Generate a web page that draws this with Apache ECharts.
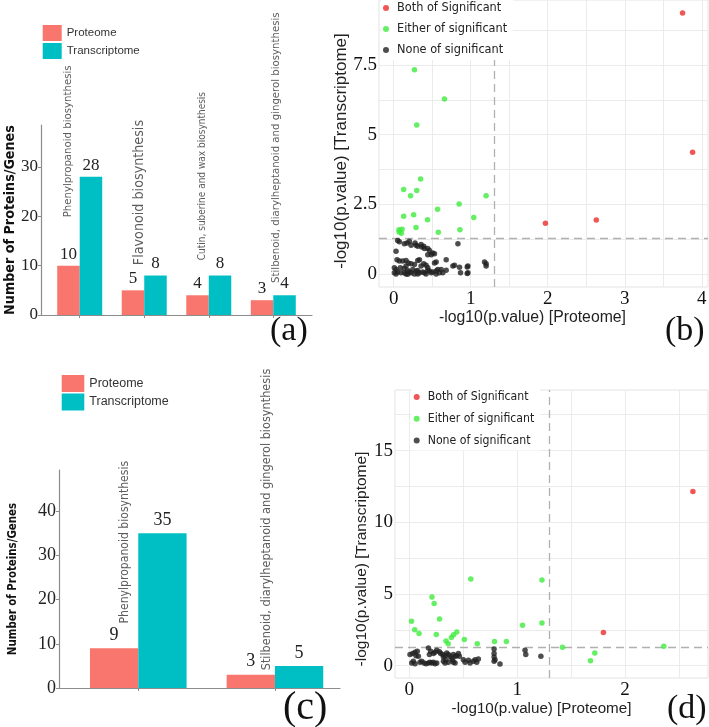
<!DOCTYPE html>
<html><head><meta charset="utf-8">
<script src="https://cdn.jsdelivr.net/npm/echarts@6/dist/echarts.min.js"></script>
<style>html,body{margin:0;padding:0;background:#fff}#c{width:709px;height:727px}</style>
</head><body><div id="c"></div>
<script>
// ---------------- data ----------------
const categoriesA = ['Phenylpropanoid biosynthesis','Flavonoid biosynthesis','Cutin, suberine and wax biosynthesis','Stilbenoid, diarylheptanoid and gingerol biosynthesis'];
const proteomeA = [10, 5, 4, 3];
const transcriptomeA = [28, 8, 8, 4];
const yTicksA = [0, 10, 20, 30];

const categoriesC = ['Phenylpropanoid biosynthesis','Stilbenoid, diarylheptanoid and gingerol biosynthesis'];
const proteomeC = [9, 3];
const transcriptomeC = [35, 5];
const yTicksC = [0, 10, 20, 30, 40];

const seriesNames = ['Both of Significant','Either of significant','None of significant'];
const barNames = ['Proteome','Transcriptome'];

const bothSigB = [[3.75,9.36],[3.88,4.37],[1.97,1.83],[2.63,1.94]];
const eitherSigB = [[0.27,7.33],[0.66,6.28],[0.30,5.35],[0.35,3.41],[0.13,3.04],[0.30,3.00],[0.22,2.81],[1.20,2.81],[0.85,2.52],[0.57,2.33],[0.13,2.08],[0.26,2.13],[0.44,1.95],[1.04,2.03],[0.29,1.67],[0.86,1.59],[0.58,1.50],[0.07,1.59],[0.11,1.61],[0.07,1.51],[0.10,1.47]];
const noneSigB = [[0.052,1.21],[0.074,1.16],[0.139,1.09],[0.174,1.12],[0.204,1.18],[0.226,1.04],[0.278,1.12],[0.291,1.04],[0.313,1.00],[0.356,1.06],[0.365,0.97],[0.391,1.00],[0.400,0.92],[0.443,0.92],[0.465,0.85],[0.508,0.76],[0.530,0.73],[0.443,0.70],[0.487,0.70],[0.834,1.09],[0.682,0.52],[0.031,0.82],[0.044,0.52],[0.074,0.47],[0.118,0.47],[0.161,0.49],[0.191,0.40],[0.226,0.37],[0.270,0.35],[0.313,0.49],[0.335,0.52],[0.356,0.29],[0.391,0.37],[0.421,0.32],[0.443,0.23],[0.530,0.40],[0.552,0.44],[0.573,0.17],[0.617,0.17],[0.009,0.23],[0.031,0.17],[0.052,0.08],[0.087,0.23],[0.139,0.20],[0.161,0.29],[0.183,0.13],[0.204,0.08],[0.248,0.17],[0.291,0.11],[0.313,0.13],[0.335,0.05],[0.378,0.08],[0.400,0.05],[0.443,0.13],[0.465,0.11],[0.508,0.08],[0.552,0.11],[0.595,0.05],[0.682,0.14],[0.769,0.29],[0.790,0.32],[0.855,0.25],[0.868,0.05],[0.964,0.29],[0.964,0.05],[0.009,0.05],[0.031,0.01],[0.096,0.05],[0.139,0.05],[0.161,0.01],[0.183,0.0],[0.226,0.05],[0.270,0.01],[0.313,0.01],[0.421,0.01],[0.487,0.05],[0.552,0.01],[0.638,0.05],[0.955,0.26],[0.955,0.02],[1.18,0.44],[1.20,0.37],[1.20,0.29]];
const xTicksB = [0, 1, 2, 3, 4];
const yTicksB = [0, 2.5, 5, 7.5];

const bothSigD = [[2.63,12.14],[1.80,2.32]];
const eitherSigD = [[0.57,6.04],[1.23,5.97],[0.21,4.78],[0.23,4.34],[0.02,3.09],[0.28,3.25],[0.05,2.51],[0.09,2.25],[0.25,2.18],[0.44,2.35],[0.41,2.16],[0.39,1.97],[0.34,1.72],[0.36,1.53],[0.51,1.83],[0.63,1.53],[0.79,1.69],[0.90,1.69],[1.05,2.81],[1.23,2.97],[1.42,1.28],[2.36,1.35],[1.72,0.88],[1.68,0.35]];
const noneSigD = [[0.006,0.77],[0.031,0.84],[0.053,0.93],[0.074,1.00],[0.062,0.70],[0.084,0.65],[0.037,0.30],[0.022,0.19],[0.053,0.14],[0.099,0.23],[0.115,0.30],[0.136,0.19],[0.155,0.14],[0.177,0.19],[0.192,0.23],[0.207,0.19],[0.223,0.23],[0.238,0.14],[0.254,0.19],[0.186,0.77],[0.177,1.23],[0.198,1.00],[0.223,0.84],[0.238,0.93],[0.254,1.07],[0.279,0.97],[0.291,0.84],[0.310,0.77],[0.316,0.60],[0.331,0.70],[0.347,0.88],[0.362,0.77],[0.377,0.65],[0.393,0.53],[0.402,0.37],[0.408,0.77],[0.424,0.65],[0.439,0.70],[0.455,0.84],[0.464,0.65],[0.316,0.30],[0.331,0.19],[0.362,0.23],[0.408,0.23],[0.424,0.19],[0.501,0.42],[0.517,0.23],[0.548,0.37],[0.563,0.19],[0.594,0.30],[0.610,0.42],[0.625,0.23],[0.640,0.46],[0.340,0.42],[0.786,1.16],[0.786,0.84],[0.786,0.60],[0.786,0.30],[0.795,0.42],[0.841,0.12],[1.073,1.07],[1.08,0.77],[1.22,0.65]];
const xTicksD = [0, 1, 2];
const yTicksD = [0, 5, 10, 15];

const pThreshold = 0.05;

// ---------------- styling / placement (not data) ----------------
const SERIF = "'Liberation Serif','Times New Roman',serif";
const SANS = "'Liberation Sans',Arial,sans-serif";
const NARROW = "'Liberation Sans Narrow','Arial Narrow','DejaVu Sans Condensed',sans-serif";
const C_PROT = '#F8766D', C_TRAN = '#00BFC4';
const C_RED = '#EE2C2C', C_GREEN = '#3DEB3D', C_BLACK = '#222222';
// annotation placement: offset from category centre (x units) and baseline height (y units)
const annotA = [{dx:-0.18, y:19.8, fs:11.3},{dx:-0.07, y:10.1, fs:14.2},{dx:-0.10, y:11.1, fs:10},{dx:0.04, y:6.5, fs:11.3}];
const annotC = [{dx:-0.10, y:14.6, fs:12.1},{dx:-0.06, y:4.0, fs:12.6}];

const sig = -Math.log10(pThreshold);
const halves = arr => { const out=[]; const step=arr[1]-arr[0]; for (let v=arr[0]; v<=arr[arr.length-1]+step*0.51; v+=step/2) out.push(+v.toFixed(4)); return out; };

function barSeries(name, vals, xi, color, bw, fs, dist){
  return {type:'bar', name, xAxisIndex:xi, yAxisIndex:xi, data: vals.map((v,i)=>[i+1,v]),
    barWidth:bw, barGap:'0%', itemStyle:{color}, z:2,
    label:{show:true, position:'top', distance:dist, fontFamily:SERIF, fontSize:fs, color:'#222',
      formatter:p=>p.value[1]}};
}
function annotSeries(cats, place, xi){
  return {type:'scatter', xAxisIndex:xi, yAxisIndex:xi, symbolSize:0, silent:true, z:5,
    data: cats.map((c,i)=>({value:[i+1+place[i].dx, place[i].y], label:{fontSize:place[i].fs}})),
    label:{show:true, position:[0,0], rotate:90, align:'left', verticalAlign:'middle',
      fontFamily:NARROW, color:'#333', formatter:p=>cats[p.dataIndex]}};
}
function scatterSeries(name, data, xi, color, withLines){
  const s = {type:'scatter', name, xAxisIndex:xi, yAxisIndex:xi, data, symbol:'circle', symbolSize:5.5,
    itemStyle:{color}, z:3};
  if (withLines) s.markLine = {silent:true, symbol:'none', label:{show:false}, z:1,
    lineStyle:{type:[8,5], color:'#b0b0b0', width:1.3},
    data:[{xAxis:sig},{yAxis:sig}]};
  return s;
}
function barXAxis(gi, min, max, n){
  const ticks=[]; for(let i=1;i<=n;i++) ticks.push(i);
  return {type:'value', gridIndex:gi, min, max, axisLine:{show:true, onZero:false, lineStyle:{color:'#8c8c8c', width:1.2}},
    axisTick:{show:true, length:3, customValues:ticks, lineStyle:{color:'#8c8c8c'}}, axisLabel:{show:false}, splitLine:{show:false}};
}
function barYAxis(gi, max, ticks, fs, nameFs, gap){
  return {type:'value', gridIndex:gi, min:0, max, axisLine:{show:true, onZero:false, lineStyle:{color:'#8c8c8c', width:1.2}},
    axisTick:{show:true, length:3, customValues:ticks, lineStyle:{color:'#8c8c8c'}},
    axisLabel:{customValues:ticks, fontFamily:SERIF, fontSize:fs, color:'#222', margin:3},
    splitLine:{show:false}, name:'Number of Proteins/Genes', nameLocation:'middle', nameGap:gap,
    nameTextStyle:{fontFamily:NARROW, fontWeight:'bold', fontSize:nameFs, color:'#111'}};
}
function scXAxis(gi, min, max, ticks, nameGap, fs, shift){
  return {type:'value', gridIndex:gi, min, max, axisLine:{show:false, onZero:false},
    axisTick:{show:false, customValues:halves(ticks)},
    axisLabel:{customValues:ticks, fontFamily:SERIF, fontSize:19, color:'#111', margin:3},
    splitLine:{show:true, lineStyle:{color:'#ebebeb'}},
    name:'-log10(p.value) [Proteome]', nameLocation:'middle', nameGap,
    nameTextStyle:{fontFamily:SANS, fontSize:fs, color:'#222', padding:[0,shift,0,0]}};
}
function scYAxis(gi, min, max, ticks, nameGap, fs, shift){
  return {type:'value', gridIndex:gi, min, max, axisLine:{show:false, onZero:false},
    axisTick:{show:false, customValues:halves(ticks)},
    axisLabel:{customValues:ticks, fontFamily:SERIF, fontSize:19, color:'#111', margin:2},
    splitLine:{show:true, lineStyle:{color:'#ebebeb'}},
    name:'-log10(p.value) [Transcriptome]', nameLocation:'middle', nameGap,
    nameTextStyle:{fontFamily:SANS, fontSize:fs, color:'#222', padding:[0,shift,0,0]}};
}
function panelTitle(text, left, top, fs){
  return {text, left, top, padding:0, textStyle:{fontFamily:SERIF, fontSize:fs, fontWeight:'normal', color:'#111'}};
}

const option = {
  backgroundColor:'#fff',
  animation:false,
  title:[panelTitle('(a)',270,314,34), panelTitle('(b)',665,314,34), panelTitle('(c)',283,688,40), panelTitle('(d)',667,692,34)],
  grid:[
    {left:41, top:125, width:271, height:190, outerBoundsMode:'none'},
    {left:379, top:0, width:329, height:287, show:true, borderColor:'#e3e3e3', borderWidth:1, backgroundColor:'transparent', outerBoundsMode:'none'},
    {left:59, top:470, width:281, height:218, outerBoundsMode:'none'},
    {left:395, top:390, width:313, height:288, show:true, borderColor:'#e3e3e3', borderWidth:1, backgroundColor:'transparent', outerBoundsMode:'none'}
  ],
  xAxis:[
    barXAxis(0, 0.4, 4.6, categoriesA.length),
    scXAxis(1, -0.19, 4.08, xTicksB, 21, 15.8, 22),
    barXAxis(2, 0.42, 2.476, categoriesC.length),
    scXAxis(3, -0.133, 2.77, xTicksD, 22, 15.2, 20)
  ],
  yAxis:[
    barYAxis(0, 38.5, yTicksA, 17, 14.2, 23),
    scYAxis(1, -0.46, 9.83, yTicksB, 17, 17, 15),
    barYAxis(2, 49.3, yTicksC, 18, 11.4, 40),
    scYAxis(3, -0.86, 19.22, yTicksD, 8, 15.5, 50)
  ],
  legend:[
    {data:barNames, orient:'vertical', left:42.7, top:25, padding:0, icon:'rect', itemWidth:19, itemHeight:16, itemGap:2,
      selectedMode:false, textStyle:{fontFamily:SANS, fontSize:11.5, color:'#333'}},
    {data:barNames, orient:'vertical', left:61.7, top:375, padding:0, icon:'rect', itemWidth:22.6, itemHeight:17, itemGap:1.5,
      selectedMode:false, textStyle:{fontFamily:SANS, fontSize:12.5, color:'#333'}},
    {data:seriesNames, orient:'vertical', left:381, top:0, padding:[1,6,3,2], icon:'circle', itemWidth:6, itemHeight:6, itemGap:7,
      backgroundColor:'#fff', selectedMode:false, textStyle:{fontFamily:NARROW, fontSize:12.6, lineHeight:14, color:'#222', padding:[0,0,0,3]}},
    {data:seriesNames, orient:'vertical', left:411.7, top:389, padding:[1,6,3,2], icon:'circle', itemWidth:6, itemHeight:6, itemGap:7.7,
      backgroundColor:'#fff', selectedMode:false, textStyle:{fontFamily:NARROW, fontSize:12.2, lineHeight:14, color:'#222', padding:[0,0,0,3]}}
  ],
  series:[
    barSeries(barNames[0], proteomeA, 0, C_PROT, 22.5, 17, 3),
    barSeries(barNames[1], transcriptomeA, 0, C_TRAN, 22.5, 17, 3),
    annotSeries(categoriesA, annotA, 0),
    barSeries(barNames[0], proteomeC, 2, C_PROT, 48.3, 18, 4),
    barSeries(barNames[1], transcriptomeC, 2, C_TRAN, 48.3, 18, 4),
    annotSeries(categoriesC, annotC, 2),
    scatterSeries(seriesNames[2], noneSigB, 1, C_BLACK, true),
    scatterSeries(seriesNames[1], eitherSigB, 1, C_GREEN, false),
    scatterSeries(seriesNames[0], bothSigB, 1, C_RED, false),
    scatterSeries(seriesNames[2], noneSigD, 3, C_BLACK, true),
    scatterSeries(seriesNames[1], eitherSigD, 3, C_GREEN, false),
    scatterSeries(seriesNames[0], bothSigD, 3, C_RED, false)
  ]
};
const chart = echarts.init(document.getElementById('c'), null, {renderer:'canvas'});
chart.setOption(option);
</script></body></html>
